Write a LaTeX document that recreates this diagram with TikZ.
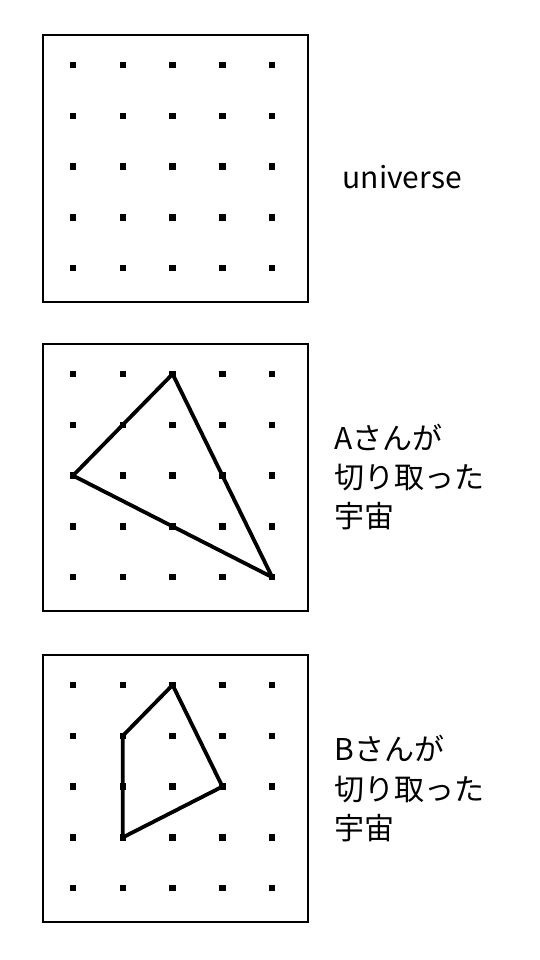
\documentclass[tikz,border=0pt]{standalone}
\usepackage{fontspec}
\setmainfont{Noto Sans CJK JP}
\usetikzlibrary{positioning}

\begin{document}
\begin{tikzpicture}[x=1pt,y=-1pt,
		panel/.style={draw, line width=2.8pt, minimum width=265pt, minimum height=267pt, inner sep=0pt},
		dot/.style={fill=black, inner sep=0pt, minimum size=6.5pt},
		cut/.style={line width=3.8pt, line join=round},
		label/.style={inner sep=0pt, align=left, font=\fontsize{30}{39}\selectfont}]
		\useasboundingbox (0,0) rectangle (540,960);
		% Draw panels with dot grids
		\foreach \k/\top in {1/35,2/344,3/655} {
			\node[panel] (box\k) at (175.5,\top+133.5) {};
			\foreach \i in {0,...,4} {
				\foreach \j in {0,...,4} {
					\node[dot] (d\k\i\j) at (73+49.8*\i,\top+30+50.8*\j) {};
				}
			}
		}
		
		% Labels
		\node[label, anchor=west, right=33pt of box1.east, yshift=-9pt] (lab1) {universe};
		\node[label, anchor=west, right=25pt of box2.east] (lab2) {Aさんが\\切り取った\\宇宙};
		\node[label, anchor=west, right=25pt of box3.east] (lab3) {Bさんが\\切り取った\\宇宙};
		
		% Cut-out shapes
		\draw[cut] (d220.center) -- (d202.center) -- (d244.center) -- cycle;
		\draw[cut] (d320.center) -- (d311.center) -- (d313.center) -- (d332.center) -- cycle;
	\end{tikzpicture}
\end{document}
